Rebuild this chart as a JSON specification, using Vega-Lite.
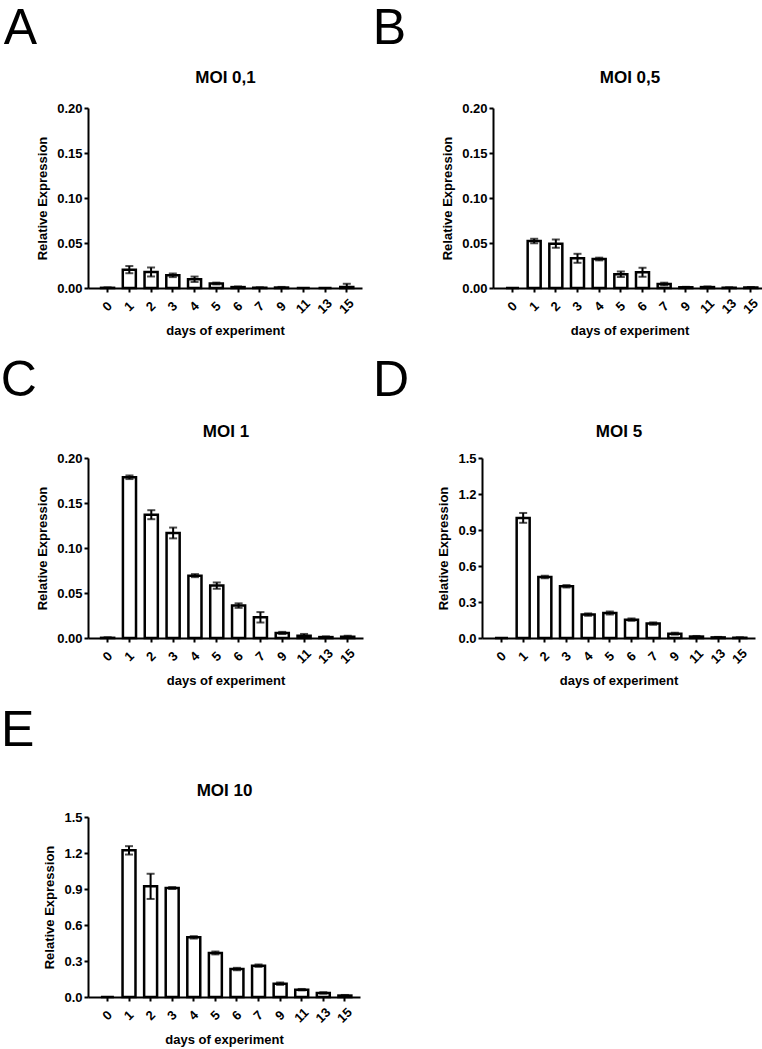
{
  "$schema": "https://vega.github.io/schema/vega-lite/v6.json",
  "padding": {"left": 0, "top": 4, "right": 0, "bottom": 0},
  "background": "white",
  "datasets": {
    "moi01": [
      {"day": 0, "v": 0.0002, "lo": 0, "hi": 0.0007},
      {"day": 1, "v": 0.0204, "lo": 0.0164, "hi": 0.0244},
      {"day": 2, "v": 0.0178, "lo": 0.0128, "hi": 0.0228},
      {"day": 3, "v": 0.0141, "lo": 0.0121, "hi": 0.0161},
      {"day": 4, "v": 0.0097, "lo": 0.0067, "hi": 0.0127},
      {"day": 5, "v": 0.0050, "lo": 0.0040, "hi": 0.0060},
      {"day": 6, "v": 0.0010, "lo": 0.0003, "hi": 0.0017},
      {"day": 7, "v": 0.0003, "lo": 0, "hi": 0.0008},
      {"day": 9, "v": 0.0005, "lo": 0, "hi": 0.0012},
      {"day": 11, "v": 0, "lo": 0, "hi": 0},
      {"day": 13, "v": 0, "lo": 0, "hi": 0},
      {"day": 15, "v": 0.0010, "lo": 0, "hi": 0.0047}
    ],
    "moi05": [
      {"day": 0, "v": 0, "lo": 0, "hi": 0},
      {"day": 1, "v": 0.0522, "lo": 0.0497, "hi": 0.0547},
      {"day": 2, "v": 0.0493, "lo": 0.0446, "hi": 0.0540},
      {"day": 3, "v": 0.0330, "lo": 0.0280, "hi": 0.0380},
      {"day": 4, "v": 0.0322, "lo": 0.0307, "hi": 0.0337},
      {"day": 5, "v": 0.0153, "lo": 0.0123, "hi": 0.0183},
      {"day": 6, "v": 0.0175, "lo": 0.0125, "hi": 0.0225},
      {"day": 7, "v": 0.0044, "lo": 0.0029, "hi": 0.0059},
      {"day": 9, "v": 0.0008, "lo": 0.0003, "hi": 0.0013},
      {"day": 11, "v": 0.0010, "lo": 0.0003, "hi": 0.0017},
      {"day": 13, "v": 0.0003, "lo": 0, "hi": 0.0008},
      {"day": 15, "v": 0.0005, "lo": 0, "hi": 0.0010}
    ],
    "moi1": [
      {"day": 0, "v": 0.0002, "lo": 0, "hi": 0.0007},
      {"day": 1, "v": 0.1786, "lo": 0.1766, "hi": 0.1806},
      {"day": 2, "v": 0.1370, "lo": 0.1320, "hi": 0.1420},
      {"day": 3, "v": 0.1167, "lo": 0.1107, "hi": 0.1227},
      {"day": 4, "v": 0.0693, "lo": 0.0676, "hi": 0.0710},
      {"day": 5, "v": 0.0582, "lo": 0.0547, "hi": 0.0617},
      {"day": 6, "v": 0.0360, "lo": 0.0335, "hi": 0.0385},
      {"day": 7, "v": 0.0230, "lo": 0.0172, "hi": 0.0288},
      {"day": 9, "v": 0.0056, "lo": 0.0044, "hi": 0.0068},
      {"day": 11, "v": 0.0025, "lo": 0.0005, "hi": 0.0045},
      {"day": 13, "v": 0.0010, "lo": 0.0002, "hi": 0.0018},
      {"day": 15, "v": 0.0015, "lo": 0.0005, "hi": 0.0025}
    ],
    "moi5": [
      {"day": 0, "v": 0, "lo": 0, "hi": 0},
      {"day": 1, "v": 1.000, "lo": 0.960, "hi": 1.042},
      {"day": 2, "v": 0.508, "lo": 0.498, "hi": 0.518},
      {"day": 3, "v": 0.431, "lo": 0.421, "hi": 0.441},
      {"day": 4, "v": 0.195, "lo": 0.185, "hi": 0.205},
      {"day": 5, "v": 0.208, "lo": 0.196, "hi": 0.220},
      {"day": 6, "v": 0.153, "lo": 0.143, "hi": 0.163},
      {"day": 7, "v": 0.120, "lo": 0.110, "hi": 0.130},
      {"day": 9, "v": 0.036, "lo": 0.028, "hi": 0.044},
      {"day": 11, "v": 0.012, "lo": 0.007, "hi": 0.017},
      {"day": 13, "v": 0.005, "lo": 0.001, "hi": 0.009},
      {"day": 15, "v": 0.003, "lo": 0, "hi": 0.007}
    ],
    "moi10": [
      {"day": 0, "v": 0, "lo": 0, "hi": 0},
      {"day": 1, "v": 1.222, "lo": 1.187, "hi": 1.257},
      {"day": 2, "v": 0.922, "lo": 0.817, "hi": 1.027},
      {"day": 3, "v": 0.908, "lo": 0.900, "hi": 0.916},
      {"day": 4, "v": 0.497, "lo": 0.487, "hi": 0.507},
      {"day": 5, "v": 0.367, "lo": 0.355, "hi": 0.379},
      {"day": 6, "v": 0.233, "lo": 0.223, "hi": 0.243},
      {"day": 7, "v": 0.261, "lo": 0.251, "hi": 0.271},
      {"day": 9, "v": 0.111, "lo": 0.101, "hi": 0.121},
      {"day": 11, "v": 0.061, "lo": 0.055, "hi": 0.067},
      {"day": 13, "v": 0.034, "lo": 0.028, "hi": 0.040},
      {"day": 15, "v": 0.012, "lo": 0.007, "hi": 0.017}
    ]
  },
  "columns": 2,
  "align": "none",
  "spacing": {"row": 18, "column": 9},
  "concat": [
    {
      "width": 274, "height": 180,
      "data": {"name": "moi01"},
      "title": {"text": "A", "anchor": "start", "frame": "bounds", "dx": -33, "offset": 14, "fontSize": 50, "fontWeight": "normal", "font": "Liberation Sans", "color": "black"},
      "layer": [
        {"mark": {"type": "bar", "fill": "white", "stroke": "black", "strokeWidth": 2.5},
         "encoding": {
           "x": {"field": "day", "type": "ordinal", "scale": {"paddingInner": 0.4, "paddingOuter": 0.5, "align": 0.6}, "axis": {"title": "days of experiment", "orient": "bottom", "labelAngle": -45, "labelAlign": "center", "labelBaseline": "middle", "labelPadding": 14, "tickSize": 4, "titlePadding": 8}},
           "y": {"field": "v", "type": "quantitative", "scale": {"domain": [0, 0.2], "nice": false}, "axis": {"title": "Relative Expression", "values": [0, 0.05, 0.1, 0.15, 0.2], "tickCount": 10, "format": ".2f"}}
         }},
        {"mark": {"type": "rule", "strokeWidth": 2, "color": "black"},
         "encoding": {
           "x": {"field": "day", "type": "ordinal", "axis": {"orient": "top", "title": "MOI 0,1", "labels": false, "ticks": false, "domain": false, "titleFontSize": 17, "titlePadding": 22}},
           "y": {"field": "lo", "type": "quantitative", "title": "Relative Expression"},
           "y2": {"field": "hi"}
         }},
        {"mark": {"type": "tick", "size": 8, "thickness": 2, "color": "black"},
         "encoding": {"x": {"field": "day", "type": "ordinal", "axis": null}, "y": {"field": "hi", "type": "quantitative", "title": "Relative Expression"}}},
        {"mark": {"type": "tick", "size": 8, "thickness": 2, "color": "black"},
         "encoding": {"x": {"field": "day", "type": "ordinal", "axis": null}, "y": {"field": "lo", "type": "quantitative", "title": "Relative Expression"}}}
      ],
      "resolve": {"axis": {"x": "independent"}}
    },
    {
      "width": 273, "height": 180,
      "data": {"name": "moi05"},
      "title": {"text": "B", "anchor": "start", "frame": "bounds", "dx": -69, "offset": 14, "fontSize": 50, "fontWeight": "normal", "font": "Liberation Sans", "color": "black"},
      "layer": [
        {"mark": {"type": "bar", "fill": "white", "stroke": "black", "strokeWidth": 2.5},
         "encoding": {
           "x": {"field": "day", "type": "ordinal", "scale": {"paddingInner": 0.4, "paddingOuter": 0.5, "align": 0.6}, "axis": {"title": "days of experiment", "orient": "bottom", "labelAngle": -45, "labelAlign": "center", "labelBaseline": "middle", "labelPadding": 14, "tickSize": 4, "titlePadding": 8}},
           "y": {"field": "v", "type": "quantitative", "scale": {"domain": [0, 0.2], "nice": false}, "axis": {"title": "Relative Expression", "values": [0, 0.05, 0.1, 0.15, 0.2], "tickCount": 10, "format": ".2f"}}
         }},
        {"mark": {"type": "rule", "strokeWidth": 2, "color": "black"},
         "encoding": {
           "x": {"field": "day", "type": "ordinal", "axis": {"orient": "top", "title": "MOI 0,5", "labels": false, "ticks": false, "domain": false, "titleFontSize": 17, "titlePadding": 22}},
           "y": {"field": "lo", "type": "quantitative", "title": "Relative Expression"},
           "y2": {"field": "hi"}
         }},
        {"mark": {"type": "tick", "size": 8, "thickness": 2, "color": "black"},
         "encoding": {"x": {"field": "day", "type": "ordinal", "axis": null}, "y": {"field": "hi", "type": "quantitative", "title": "Relative Expression"}}},
        {"mark": {"type": "tick", "size": 8, "thickness": 2, "color": "black"},
         "encoding": {"x": {"field": "day", "type": "ordinal", "axis": null}, "y": {"field": "lo", "type": "quantitative", "title": "Relative Expression"}}}
      ],
      "resolve": {"axis": {"x": "independent"}}
    },
    {
      "width": 275, "height": 180,
      "data": {"name": "moi1"},
      "title": {"text": "C", "anchor": "start", "frame": "bounds", "dx": -36, "offset": 16, "fontSize": 50, "fontWeight": "normal", "font": "Liberation Sans", "color": "black"},
      "layer": [
        {"mark": {"type": "bar", "fill": "white", "stroke": "black", "strokeWidth": 2.5},
         "encoding": {
           "x": {"field": "day", "type": "ordinal", "scale": {"paddingInner": 0.4, "paddingOuter": 0.5, "align": 0.6}, "axis": {"title": "days of experiment", "orient": "bottom", "labelAngle": -45, "labelAlign": "center", "labelBaseline": "middle", "labelPadding": 14, "tickSize": 4, "titlePadding": 8}},
           "y": {"field": "v", "type": "quantitative", "scale": {"domain": [0, 0.2], "nice": false}, "axis": {"title": "Relative Expression", "values": [0, 0.05, 0.1, 0.15, 0.2], "tickCount": 10, "format": ".2f"}}
         }},
        {"mark": {"type": "rule", "strokeWidth": 2, "color": "black"},
         "encoding": {
           "x": {"field": "day", "type": "ordinal", "axis": {"orient": "top", "title": "MOI 1", "labels": false, "ticks": false, "domain": false, "titleFontSize": 17, "titlePadding": 18}},
           "y": {"field": "lo", "type": "quantitative", "title": "Relative Expression"},
           "y2": {"field": "hi"}
         }},
        {"mark": {"type": "tick", "size": 8, "thickness": 2, "color": "black"},
         "encoding": {"x": {"field": "day", "type": "ordinal", "axis": null}, "y": {"field": "hi", "type": "quantitative", "title": "Relative Expression"}}},
        {"mark": {"type": "tick", "size": 8, "thickness": 2, "color": "black"},
         "encoding": {"x": {"field": "day", "type": "ordinal", "axis": null}, "y": {"field": "lo", "type": "quantitative", "title": "Relative Expression"}}}
      ],
      "resolve": {"axis": {"x": "independent"}}
    },
    {
      "width": 273, "height": 180,
      "data": {"name": "moi5"},
      "title": {"text": "D", "anchor": "start", "frame": "bounds", "dx": -65, "offset": 16, "fontSize": 50, "fontWeight": "normal", "font": "Liberation Sans", "color": "black"},
      "layer": [
        {"mark": {"type": "bar", "fill": "white", "stroke": "black", "strokeWidth": 2.5},
         "encoding": {
           "x": {"field": "day", "type": "ordinal", "scale": {"paddingInner": 0.4, "paddingOuter": 0.5, "align": 0.6}, "axis": {"title": "days of experiment", "orient": "bottom", "labelAngle": -45, "labelAlign": "center", "labelBaseline": "middle", "labelPadding": 14, "tickSize": 4, "titlePadding": 8}},
           "y": {"field": "v", "type": "quantitative", "scale": {"domain": [0, 1.5], "nice": false}, "axis": {"title": "Relative Expression", "values": [0, 0.3, 0.6, 0.9, 1.2, 1.5], "tickCount": 10, "format": ".1f"}}
         }},
        {"mark": {"type": "rule", "strokeWidth": 2, "color": "black"},
         "encoding": {
           "x": {"field": "day", "type": "ordinal", "axis": {"orient": "top", "title": "MOI 5", "labels": false, "ticks": false, "domain": false, "titleFontSize": 17, "titlePadding": 18}},
           "y": {"field": "lo", "type": "quantitative", "title": "Relative Expression"},
           "y2": {"field": "hi"}
         }},
        {"mark": {"type": "tick", "size": 8, "thickness": 2, "color": "black"},
         "encoding": {"x": {"field": "day", "type": "ordinal", "axis": null}, "y": {"field": "hi", "type": "quantitative", "title": "Relative Expression"}}},
        {"mark": {"type": "tick", "size": 8, "thickness": 2, "color": "black"},
         "encoding": {"x": {"field": "day", "type": "ordinal", "axis": null}, "y": {"field": "lo", "type": "quantitative", "title": "Relative Expression"}}}
      ],
      "resolve": {"axis": {"x": "independent"}}
    },
    {
      "width": 272, "height": 180,
      "data": {"name": "moi10"},
      "title": {"text": "E", "anchor": "start", "frame": "bounds", "dx": -43, "offset": 25, "fontSize": 50, "fontWeight": "normal", "font": "Liberation Sans", "color": "black"},
      "layer": [
        {"mark": {"type": "bar", "fill": "white", "stroke": "black", "strokeWidth": 2.5},
         "encoding": {
           "x": {"field": "day", "type": "ordinal", "scale": {"paddingInner": 0.4, "paddingOuter": 0.5, "align": 0.6}, "axis": {"title": "days of experiment", "orient": "bottom", "labelAngle": -45, "labelAlign": "center", "labelBaseline": "middle", "labelPadding": 14, "tickSize": 4, "titlePadding": 8}},
           "y": {"field": "v", "type": "quantitative", "scale": {"domain": [0, 1.5], "nice": false}, "axis": {"title": "Relative Expression", "values": [0, 0.3, 0.6, 0.9, 1.2, 1.5], "tickCount": 10, "format": ".1f"}}
         }},
        {"mark": {"type": "rule", "strokeWidth": 2, "color": "black"},
         "encoding": {
           "x": {"field": "day", "type": "ordinal", "axis": {"orient": "top", "title": "MOI 10", "labels": false, "ticks": false, "domain": false, "titleFontSize": 17, "titlePadding": 18}},
           "y": {"field": "lo", "type": "quantitative", "title": "Relative Expression"},
           "y2": {"field": "hi"}
         }},
        {"mark": {"type": "tick", "size": 8, "thickness": 2, "color": "black"},
         "encoding": {"x": {"field": "day", "type": "ordinal", "axis": null}, "y": {"field": "hi", "type": "quantitative", "title": "Relative Expression"}}},
        {"mark": {"type": "tick", "size": 8, "thickness": 2, "color": "black"},
         "encoding": {"x": {"field": "day", "type": "ordinal", "axis": null}, "y": {"field": "lo", "type": "quantitative", "title": "Relative Expression"}}}
      ],
      "resolve": {"axis": {"x": "independent"}}
    }
  ],
  "config": {
    "font": "Liberation Sans",
    "view": {"stroke": null},
    "axis": {"grid": false, "labelOverlap": false, "domainColor": "black", "domainWidth": 2, "tickColor": "black", "tickWidth": 2, "labelColor": "black", "labelFont": "Liberation Sans", "labelFontSize": 13, "labelFontWeight": "bold", "titleFont": "Liberation Sans", "titleFontSize": 13, "titleFontWeight": "bold", "titleColor": "black"},
    "axisY": {"tickSize": 4, "labelPadding": 2, "titlePadding": 7}
  }
}
